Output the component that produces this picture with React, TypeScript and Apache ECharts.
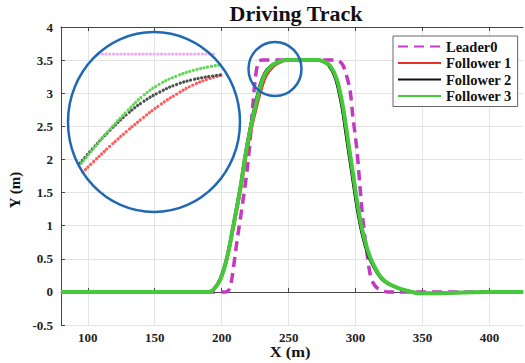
import React, { useEffect, useRef } from "react";
import * as echarts from "echarts";

// ---- main chart data ----
const leaderX = [80, 203, 205, 206.3, 208, 211.5, 215.2, 219, 221.2, 223.4, 225, 227.2, 230, 240, 270, 285, 288, 290.6, 293, 295.8, 298, 301, 303.3, 305.5, 308.5, 310.7, 313, 316, 320, 323.4, 330, 425];
const leaderY = [0, 0, 0.02, 0.07, 0.25, 0.78, 1.28, 1.84, 2.29, 2.85, 3.2, 3.46, 3.5, 3.5, 3.5, 3.5, 3.48, 3.42, 3.28, 3.05, 2.64, 2.14, 1.58, 1.08, 0.59, 0.28, 0.14, 0.06, 0.02, 0, 0, 0];

const follower1X = [80, 190, 193.8, 199, 204.3, 208.8, 214, 217.9, 221.7, 225.6, 229.4, 233.3, 238.4, 243, 249, 271.5, 275.5, 280.3, 285.5, 290.1, 293.8, 297.5, 301.3, 305, 310.2, 316.2, 320, 324.5, 332.8, 340, 348, 360, 380, 400, 425];
const follower1Y = [0, 0, 0.03, 0.18, 0.52, 0.97, 1.53, 2.02, 2.42, 2.76, 3.05, 3.27, 3.4, 3.46, 3.5, 3.5, 3.48, 3.42, 3.21, 2.79, 2.29, 1.79, 1.28, 0.89, 0.53, 0.29, 0.19, 0.12, 0.05, 0.01, -0.02, -0.02, -0.01, 0, 0];

const follower2X = [80, 190, 193.5, 198.5, 203.8, 208.3, 213.5, 217.3, 221, 224.8, 228.5, 232.3, 237.5, 242, 248, 271, 275, 279.8, 285, 289.6, 293.3, 297, 300.8, 304.5, 309.7, 315.8, 319.6, 324.2, 332.5, 340, 348, 360, 380, 400, 425];
const follower2Y = [0, 0, 0.03, 0.19, 0.53, 0.99, 1.56, 2.06, 2.47, 2.83, 3.13, 3.32, 3.43, 3.47, 3.5, 3.5, 3.48, 3.42, 3.21, 2.79, 2.29, 1.79, 1.28, 0.89, 0.53, 0.29, 0.19, 0.12, 0.05, 0.01, -0.02, -0.02, -0.01, 0, 0];

const follower3X = [80, 190, 193.6, 198.8, 204, 208.5, 213.7, 217.5, 221.2, 225, 228.7, 232.5, 237.6, 242, 248, 272, 276, 280.8, 286, 290.6, 294.3, 298, 301.8, 305.5, 310.7, 316.6, 320.5, 325, 333, 340, 348, 360, 380, 400, 425];
const follower3Y = [0, 0, 0.03, 0.18, 0.52, 0.98, 1.54, 2.04, 2.44, 2.79, 3.09, 3.3, 3.42, 3.47, 3.5, 3.5, 3.48, 3.42, 3.21, 2.79, 2.29, 1.79, 1.28, 0.89, 0.53, 0.29, 0.19, 0.12, 0.05, 0.01, -0.02, -0.02, -0.01, 0, 0];

const xTicks = [100, 150, 200, 250, 300, 350, 400];
const seriesNames = ["Leader0", "Follower 1", "Follower 2", "Follower 3"];

// ---- zoomed inset data ----
const insetLeaderX = [229.5, 246.5];
const insetLeaderY = [3.5, 3.5];
const insetF1X = [227.2, 228.7, 231.2, 233.7, 236, 238.5, 241, 243.4, 245.9, 247.8];
const insetF1Y = [2.91, 2.96, 3.04, 3.115, 3.18, 3.245, 3.3, 3.345, 3.378, 3.395];
const insetF2X = [226.8, 228.7, 231.2, 233.7, 236, 238.5, 241, 243.4, 245.9, 247.8];
const insetF2Y = [2.955, 3.03, 3.12, 3.2, 3.26, 3.31, 3.348, 3.372, 3.388, 3.397];
const insetF3X = [227, 228.7, 231.2, 233.7, 236, 238.5, 241, 243.4, 245.9, 247.4];
const insetF3Y = [2.955, 3.025, 3.125, 3.215, 3.29, 3.35, 3.39, 3.418, 3.437, 3.445];

const zip = (xs: number[], ys: number[]) => xs.map((x, i) => [x, ys[i]]);

const COLORS = ["#c23ac2", "#e53228", "#111111", "#46c83c"];
const FONT = "'Liberation Serif', 'Times New Roman', serif";

export default function App() {
  const ref = useRef<HTMLDivElement>(null);
  useEffect(() => {
    if (!ref.current) return;
    const chart = echarts.init(ref.current, undefined, { renderer: "svg" });
    const axisLine = { show: true, lineStyle: { color: "#444", width: 1 } };
    const dotted = (color: string) => ({ color, width: 3.2, type: [0.1, 3.6], cap: "round" });
    const option: any = {
      animation: false,
      backgroundColor: "#fff",
      grid: [
        { left: 61, right: 2, top: 27, bottom: 38, containLabel: false },
        { left: 68, top: 34, width: 170, height: 180 },
      ],
      xAxis: [
        {
          type: "value", gridIndex: 0, min: 80, max: 425,
          axisLine, axisTick: { show: true, inside: true, length: 4, customValues: xTicks, lineStyle: { color: "#444" } },
          axisLabel: { customValues: xTicks, fontFamily: FONT, fontWeight: "bold", fontSize: 13, color: "#222", margin: 6 },
          splitLine: { show: true, lineStyle: { color: "#e4e4e4", width: 1 } },
        },
        {
          type: "value", gridIndex: 0, min: 80, max: 425, position: "top",
          axisLine, axisTick: { show: true, inside: true, length: 4, customValues: xTicks, lineStyle: { color: "#444" } },
          axisLabel: { show: false }, splitLine: { show: false },
        },
        { type: "value", gridIndex: 1, min: 225, max: 250, show: false },
      ],
      yAxis: [
        {
          type: "value", gridIndex: 0, min: -0.5, max: 4, interval: 0.5,
          axisLine, axisTick: { show: true, inside: true, length: 4, lineStyle: { color: "#444" } },
          axisLabel: { fontFamily: FONT, fontWeight: "bold", fontSize: 13, color: "#222", margin: 8 },
          splitLine: { show: true, lineStyle: { color: "#e4e4e4", width: 1 } },
        },
        { type: "value", gridIndex: 1, min: 2.7, max: 3.6, show: false },
      ],
      legend: {
        orient: "vertical", left: 393, top: 36, data: seriesNames,
        backgroundColor: "#fff", borderColor: "#666", borderWidth: 1,
        padding: [3, 6, 3, 4], itemGap: 1.5, itemWidth: 43, itemHeight: 12,
        itemStyle: { opacity: 0, borderWidth: 0 },
        textStyle: { fontFamily: FONT, fontWeight: "bold", fontSize: 14.5, color: "#111", lineHeight: 14 },
      },
      graphic: [
        { type: "text", x: 296, y: 14, scaleX: 1.1, style: { text: "Driving Track", font: `bold 20px ${FONT}`, fill: "#111", align: "center", verticalAlign: "middle" } },
        { type: "text", x: 290, y: 352, scaleX: 1.1, style: { text: "X (m)", font: `bold 15px ${FONT}`, fill: "#111", align: "center", verticalAlign: "middle" } },
        { type: "text", x: 15, y: 190, rotation: Math.PI / 2, style: { text: "Y (m)", font: `bold 15px ${FONT}`, fill: "#111", align: "center", verticalAlign: "middle" } },
        { type: "ellipse", shape: { cx: 154, cy: 122, rx: 86, ry: 90 }, style: { fill: "none", stroke: "#1f68b4", lineWidth: 2.5 }, z: 100 },
        { type: "ellipse", shape: { cx: 275, cy: 69, rx: 26.5, ry: 27 }, style: { fill: "none", stroke: "#1f68b4", lineWidth: 2.5 }, z: 100 },
      ],
      series: [
        { name: "Leader0", type: "line", xAxisIndex: 0, yAxisIndex: 0, data: zip(leaderX, leaderY), showSymbol: false, symbol: "none", smooth: 0.3, lineStyle: { color: COLORS[0], width: 3.5, type: [10, 6] }, itemStyle: { color: COLORS[0] }, z: 2 },
        { name: "Follower 1", type: "line", xAxisIndex: 0, yAxisIndex: 0, data: zip(follower1X, follower1Y), showSymbol: false, symbol: "none", smooth: 0.3, lineStyle: { color: COLORS[1], width: 3 }, itemStyle: { color: COLORS[1] }, z: 3 },
        { name: "Follower 2", type: "line", xAxisIndex: 0, yAxisIndex: 0, data: zip(follower2X, follower2Y), showSymbol: false, symbol: "none", smooth: 0.3, lineStyle: { color: COLORS[2], width: 2.5 }, itemStyle: { color: COLORS[2] }, z: 4 },
        { name: "Follower 3", type: "line", xAxisIndex: 0, yAxisIndex: 0, data: zip(follower3X, follower3Y), showSymbol: false, symbol: "none", smooth: 0.3, lineStyle: { color: COLORS[3], width: 4 }, itemStyle: { color: COLORS[3] }, z: 5 },
        { name: "inset-leader", type: "line", xAxisIndex: 2, yAxisIndex: 1, data: zip(insetLeaderX, insetLeaderY), symbol: "none", lineStyle: dotted("#f4a8f4"), z: 6 },
        { name: "inset-f1", type: "line", xAxisIndex: 2, yAxisIndex: 1, data: zip(insetF1X, insetF1Y), symbol: "none", smooth: 0.5, lineStyle: dotted("#ff5c5c"), z: 6 },
        { name: "inset-f2", type: "line", xAxisIndex: 2, yAxisIndex: 1, data: zip(insetF2X, insetF2Y), symbol: "none", smooth: 0.5, lineStyle: dotted("#505050"), z: 7 },
        { name: "inset-f3", type: "line", xAxisIndex: 2, yAxisIndex: 1, data: zip(insetF3X, insetF3Y), symbol: "none", smooth: 0.5, lineStyle: dotted("#62d856"), z: 8 },
      ],
    };
    chart.setOption(option);
    return () => chart.dispose();
  }, []);
  return <div ref={ref} style={{ width: 525, height: 363, position: "absolute", left: 0, top: 0 }} />;
}
